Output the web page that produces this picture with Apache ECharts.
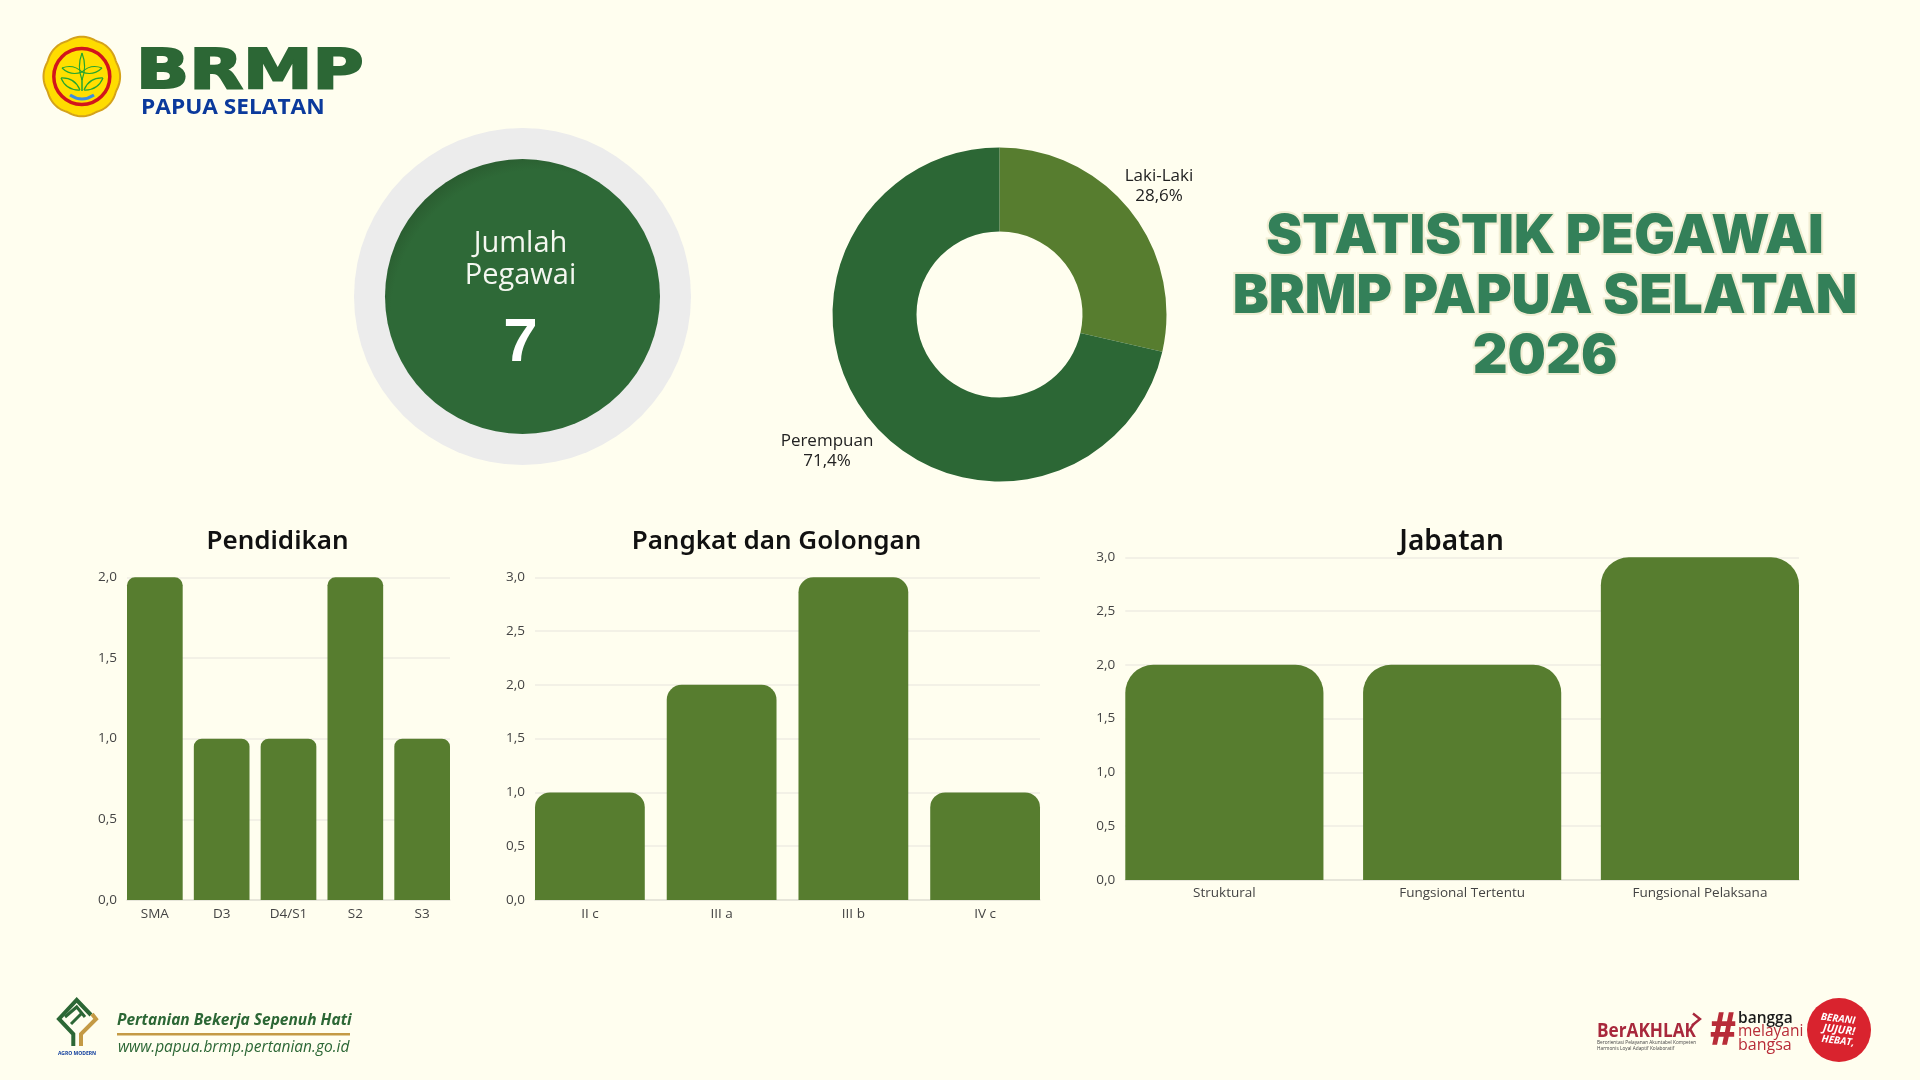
<!DOCTYPE html>
<html>
<head>
<meta charset="utf-8">
<title>Statistik Pegawai BRMP Papua Selatan 2026</title>
<script src="https://cdn.jsdelivr.net/npm/echarts@6/dist/echarts.min.js"></script>
<style>html,body{margin:0;padding:0;background:#fffeef}#c{width:1920px;height:1080px}</style>
</head>
<body>
<div id="c"></div>
<script>
const totalPegawai = 7;
const genderNames = ['Laki-Laki', 'Perempuan'];
const genderValues = [2, 5];
const pendidikanCategories = ['SMA', 'D3', 'D4/S1', 'S2', 'S3'];
const pendidikanValues = [2, 1, 1, 2, 1];
const pangkatCategories = ['II c', 'III a', 'III b', 'IV c'];
const pangkatValues = [1, 2, 3, 1];
const jabatanCategories = ['Struktural', 'Fungsional Tertentu', 'Fungsional Pelaksana'];
const jabatanValues = [2, 2, 3];

const GREEN = '#2c6735', OLIVE = '#577d2f', BG = '#fffeef', GOLD = '#c49a45', MAROON = '#a8283c', RED = '#d9232e';
const comma = (v, d) => v.toFixed(d).replace('.', ',');
const chart = echarts.init(document.getElementById('c'), null, {renderer: 'canvas'});

const grid = [], xAxis = [], yAxis = [], series = [];
function addBars(name, cats, vals, L, W, T, H, max, radius, margin) {
  const band = W / (cats.length - 1 / 6), pad = band / 12;
  const a = grid.length;
  grid.push({left: L, top: T, width: W, height: H});
  grid.push({left: L - pad, top: T, width: W + 2 * pad, height: H});
  xAxis.push({gridIndex: a, type: 'category', data: cats, axisTick: {show: false}, axisLabel: {show: false},
    axisLine: {lineStyle: {color: '#e4e2d6', width: 1.5}}, splitLine: {show: false}});
  yAxis.push({gridIndex: a, type: 'value', min: 0, max: max, interval: 0.5, axisLine: {show: false}, axisTick: {show: false},
    axisLabel: {margin: 10, fontFamily: 'Open Sans', fontSize: 13.5, color: '#444', formatter: v => comma(v, 1)},
    splitLine: {show: true, lineStyle: {color: '#f3f1e6', width: 2}}});
  xAxis.push({gridIndex: a + 1, type: 'category', data: cats, axisTick: {show: false}, axisLine: {show: false},
    axisLabel: {margin: margin, interval: 0, fontFamily: 'Open Sans', fontSize: 13.5, color: '#444'}});
  yAxis.push({gridIndex: a + 1, type: 'value', min: 0, max: max, interval: 0.5, show: false, splitLine: {show: false}});
  series.push({name: name, type: 'bar', xAxisIndex: a + 1, yAxisIndex: a + 1, data: vals, barCategoryGap: '16.67%',
    itemStyle: {color: OLIVE, borderRadius: [radius, radius, 0, 0]}, silent: true});
}
addBars('Pendidikan', pendidikanCategories, pendidikanValues, 127, 323, 577.3, 322.7, 2, 8, 7);
addBars('Pangkat dan Golongan', pangkatCategories, pangkatValues, 535, 505, 577.3, 322.7, 3, 15, 7);
addBars('Jabatan', jabatanCategories, jabatanValues, 1125.3, 673.7, 557.3, 322.7, 3, 28, 6);

series.push({name: 'Jenis Kelamin', type: 'pie', center: [999.5, 314.5], radius: [83, 167], startAngle: 90, silent: true,
  data: genderNames.map((n, i) => ({name: n, value: genderValues[i], itemStyle: {color: i === 0 ? OLIVE : GREEN}})),
  label: {show: true, position: 'outside', fontFamily: 'Open Sans', fontSize: 17, lineHeight: 20, color: '#222', align: 'center',
    formatter: p => p.name + '\n' + comma(p.percent, 1) + '%'},
  labelLine: {show: false},
  labelLayout: p => p.dataIndex === 0 ? {x: 1159, y: 186.5, align: 'center', verticalAlign: 'middle'}
                                      : {x: 827, y: 451, align: 'center', verticalAlign: 'middle'}
});

const titleStyle = {fontFamily: 'Noto Sans', fontWeight: 600, fontSize: 26, color: '#111'};
const title = [
  {text: 'Pendidikan', left: 272.5, top: 537, textAlign: 'center', textVerticalAlign: 'middle', textStyle: titleStyle},
  {text: 'Pangkat dan Golongan', left: 771.5, top: 537, textAlign: 'center', textVerticalAlign: 'middle', textStyle: titleStyle},
  {text: 'Jabatan', left: 1446.5, top: 537, textAlign: 'center', textVerticalAlign: 'middle', textStyle: Object.assign({}, titleStyle, {fontSize: 28})},
  {text: 'STATISTIK PEGAWAI\nBRMP PAPUA SELATAN\n2026', left: 1540, top: 292, textAlign: 'center', textVerticalAlign: 'middle',
    textStyle: {fontFamily: 'Inter', fontWeight: 900, fontSize: 54, lineHeight: 60, color: '#338059',
      textBorderColor: '#f1edd3', textBorderWidth: 4}}
];

function text(x, y, s, font, fill, extra) {
  return Object.assign({type: 'text', x: x, y: y, silent: true,
    style: {text: s, font: font, fill: fill, align: 'left', verticalAlign: 'middle'}}, extra || {});
}
function ctext(x, y, s, font, fill, extra) {
  const t = text(x, y, s, font, fill, extra);
  t.style.align = 'center';
  return t;
}
function leaf(x0, y0, x1, y1, w) {
  const mx = (x0 + x1) / 2, my = (y0 + y1) / 2, dx = x1 - x0, dy = y1 - y0, l = Math.hypot(dx, dy);
  const nx = -dy / l * w, ny = dx / l * w;
  return [1, -1].map(s => ({type: 'bezierCurve', silent: true,
    shape: {x1: x0, y1: y0, x2: x1, y2: y1, cpx1: mx + s * nx * 1.3, cpy1: my + s * ny * 1.3},
    style: {stroke: '#25a52f', lineWidth: 1.2, fill: null}}));
}
const emblemPts = [];
for (let t = 0; t < 360; t += 3) {
  const a = t * Math.PI / 180, r = 1 + 0.035 * Math.abs(Math.cos(4 * a));
  emblemPts.push([81.8 + 37 * r * Math.sin(a), 76.5 - 38.5 * r * Math.cos(a)]);
}
const graphic = [
  {type: 'polygon', silent: true, shape: {points: emblemPts}, style: {fill: '#ffdc00', stroke: '#d4a21a', lineWidth: 2}},
  {type: 'ellipse', silent: true, shape: {cx: 81.8, cy: 76.5, rx: 28, ry: 28}, style: {fill: '#ffdf00', stroke: '#d2141c', lineWidth: 3.5}},
  ...leaf(82, 80, 82, 53, 4), ...leaf(82, 72, 62, 68, 5), ...leaf(82, 72, 102, 68, 5),
  ...leaf(80, 90, 61, 78, 6), ...leaf(84, 90, 103, 78, 6),
  {type: 'line', silent: true, shape: {x1: 82, y1: 78, x2: 82, y2: 91}, style: {stroke: '#25a52f', lineWidth: 1.5}},
  {type: 'bezierCurve', silent: true, shape: {x1: 70, y1: 95, x2: 94, y2: 95, cpx1: 82, cpy1: 103}, style: {stroke: '#3d8de0', lineWidth: 3, fill: null}},
  {type: 'text', x: 136, y: 73.5, scaleX: 1.27, silent: true, style: {text: 'BRMP', font: 'bold 55px "DejaVu Sans"', fill: GREEN, stroke: GREEN, lineWidth: 2, align: 'left', verticalAlign: 'middle'}},
  {type: 'text', x: 141, y: 108, scaleX: 1.08, silent: true, style: {text: 'PAPUA SELATAN', font: 'bold 21px "Open Sans"', fill: '#0b3a9c', align: 'left', verticalAlign: 'middle'}},

  {type: 'circle', silent: true, shape: {cx: 522.5, cy: 296.5, r: 168.5}, style: {fill: '#ececec'}},
  {type: 'circle', silent: true, shape: {cx: 522.5, cy: 296.5, r: 137.5}, style: {fill: new echarts.graphic.RadialGradient(0.56, 0.58, 0.6, [
      {offset: 0, color: '#2e6937'}, {offset: 0.9, color: '#2e6937'}, {offset: 1, color: '#2a5d30'}])}},
  ctext(520.5, 244, 'Jumlah', '29px "Open Sans"', '#f4f7f0'),
  ctext(520.5, 276, 'Pegawai', '29px "Open Sans"', '#f4f7f0'),
  ctext(520.5, 343.5, String(totalPegawai), 'bold 62px "Liberation Sans"', '#ffffff'),

  {type: 'polyline', silent: true, shape: {points: [[91, 1015], [76.7, 1000], [59, 1019], [73.3, 1034], [73.3, 1046]]}, style: {stroke: GREEN, lineWidth: 4, fill: null}},
  {type: 'polyline', silent: true, shape: {points: [[65, 1017], [76.7, 1007], [85, 1017]]}, style: {stroke: GREEN, lineWidth: 3, fill: null}},
  {type: 'line', silent: true, shape: {x1: 71, y1: 1024, x2: 82, y2: 1013}, style: {stroke: GREEN, lineWidth: 3}},
  {type: 'polyline', silent: true, shape: {points: [[92, 1014], [96, 1019], [81, 1034], [81, 1046]]}, style: {stroke: GOLD, lineWidth: 4, fill: null}},
  ctext(77, 1053.5, 'AGRO MODERN', 'bold 5px "Open Sans"', '#0b3a9c'),
  text(117, 1021, 'Pertanian Bekerja Sepenuh Hati', 'italic bold 15.5px "Open Sans"', GREEN),
  {type: 'rect', silent: true, shape: {x: 117, y: 1033, width: 233, height: 2.5}, style: {fill: GOLD}},
  text(118, 1048, 'www.papua.brmp.pertanian.go.id', 'italic 15.5px "Open Sans"', GREEN),

  {type: 'text', x: 1597, y: 1031, scaleX: 0.86, silent: true, style: {text: 'BerAKHLAK', font: 'bold 20px "Open Sans"', fill: MAROON, align: 'left', verticalAlign: 'middle'}},
  {type: 'polyline', silent: true, shape: {points: [[1693, 1013.5], [1700, 1019], [1692, 1025.5]]}, style: {stroke: MAROON, lineWidth: 2.4, fill: null}},
  {type: 'text', x: 1597, y: 1043, scaleX: 0.95, silent: true, style: {text: 'Berorientasi Pelayanan Akuntabel Kompeten', font: '5px "Open Sans"', fill: '#444', align: 'left', verticalAlign: 'middle'}},
  {type: 'text', x: 1597, y: 1049, scaleX: 0.95, silent: true, style: {text: 'Harmonis Loyal Adaptif Kolaboratif', font: '5px "Open Sans"', fill: '#444', align: 'left', verticalAlign: 'middle'}},
  {type: 'text', x: 1723, y: 1032, silent: true, style: {text: '#', font: 'bold 44px "Liberation Sans"', fill: '#b82c38', stroke: '#b82c38', lineWidth: 1.5, align: 'center', verticalAlign: 'middle'}},
  text(1738, 1019, 'bangga', '600 15.5px "Open Sans"', '#1a1a1a'),
  text(1738, 1032, 'melayani', '15.5px "Open Sans"', '#b82c38'),
  text(1738, 1045, 'bangsa', '16px "Open Sans"', '#b82c38'),
  {type: 'circle', silent: true, shape: {cx: 1839, cy: 1030, r: 32}, style: {fill: RED}},
  ctext(1838, 1019, 'BERANI', 'italic bold 10px "Open Sans"', '#fff', {rotation: -0.12}),
  ctext(1839, 1030, 'JUJUR!', 'italic bold 11px "Open Sans"', '#fff', {rotation: -0.12}),
  ctext(1838, 1041, 'HEBAT,', 'italic bold 10px "Open Sans"', '#fff', {rotation: -0.12})
];

chart.setOption({
  backgroundColor: BG, animation: false, tooltip: {show: false},
  title, grid, xAxis, yAxis, series, graphic
});
</script>
</body>
</html>
